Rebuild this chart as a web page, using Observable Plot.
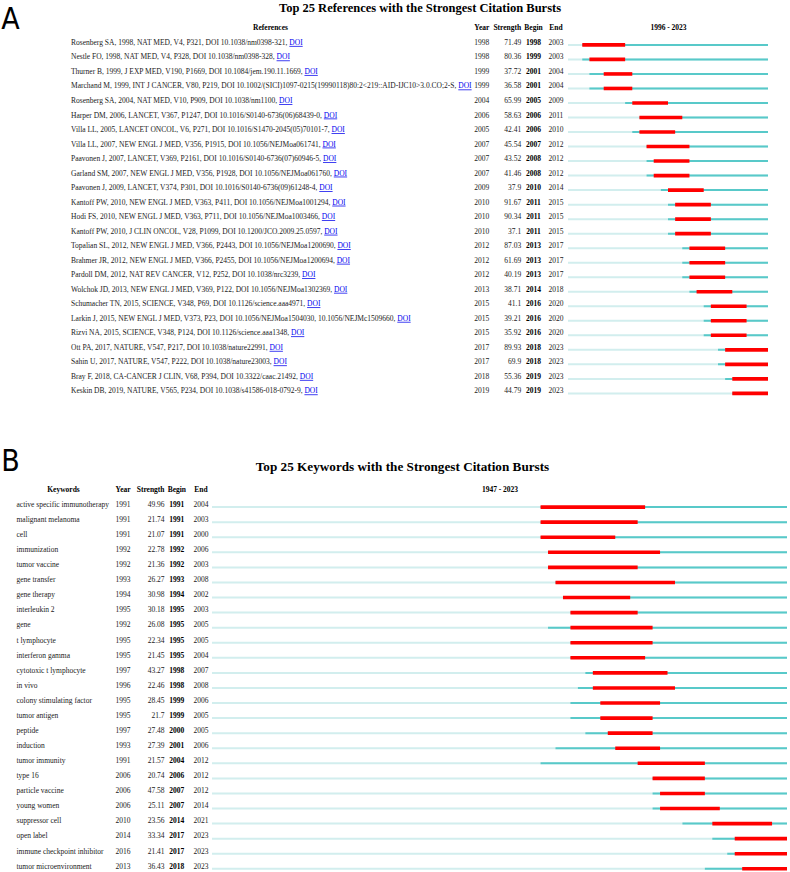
<!DOCTYPE html>
<html>
<head>
<meta charset="utf-8">
<script src="https://cdn.jsdelivr.net/npm/d3@7"></script>
<script src="https://cdn.jsdelivr.net/npm/@observablehq/plot@0.6"></script>
<style>
  html, body { margin: 0; padding: 0; background: #fff; }
  #chart svg { display: block; }
</style>
</head>
<body>
<div id="chart"></div>
<script>
// ---------- Panel A data ----------
const titleA = "Top 25 References with the Strongest Citation Bursts";
const spanA = [1996, 2023];
const references = [
  "Rosenberg SA, 1998, NAT MED, V4, P321, DOI 10.1038/nm0398-321,",
  "Nestle FO, 1998, NAT MED, V4, P328, DOI 10.1038/nm0398-328,",
  "Thurner B, 1999, J EXP MED, V190, P1669, DOI 10.1084/jem.190.11.1669,",
  "Marchand M, 1999, INT J CANCER, V80, P219, DOI 10.1002/(SICI)1097-0215(19990118)80:2<219::AID-IJC10>3.0.CO;2-S,",
  "Rosenberg SA, 2004, NAT MED, V10, P909, DOI 10.1038/nm1100,",
  "Harper DM, 2006, LANCET, V367, P1247, DOI 10.1016/S0140-6736(06)68439-0,",
  "Villa LL, 2005, LANCET ONCOL, V6, P271, DOI 10.1016/S1470-2045(05)70101-7,",
  "Villa LL, 2007, NEW ENGL J MED, V356, P1915, DOI 10.1056/NEJMoa061741,",
  "Paavonen J, 2007, LANCET, V369, P2161, DOI 10.1016/S0140-6736(07)60946-5,",
  "Garland SM, 2007, NEW ENGL J MED, V356, P1928, DOI 10.1056/NEJMoa061760,",
  "Paavonen J, 2009, LANCET, V374, P301, DOI 10.1016/S0140-6736(09)61248-4,",
  "Kantoff PW, 2010, NEW ENGL J MED, V363, P411, DOI 10.1056/NEJMoa1001294,",
  "Hodi FS, 2010, NEW ENGL J MED, V363, P711, DOI 10.1056/NEJMoa1003466,",
  "Kantoff PW, 2010, J CLIN ONCOL, V28, P1099, DOI 10.1200/JCO.2009.25.0597,",
  "Topalian SL, 2012, NEW ENGL J MED, V366, P2443, DOI 10.1056/NEJMoa1200690,",
  "Brahmer JR, 2012, NEW ENGL J MED, V366, P2455, DOI 10.1056/NEJMoa1200694,",
  "Pardoll DM, 2012, NAT REV CANCER, V12, P252, DOI 10.1038/nrc3239,",
  "Wolchok JD, 2013, NEW ENGL J MED, V369, P122, DOI 10.1056/NEJMoa1302369,",
  "Schumacher TN, 2015, SCIENCE, V348, P69, DOI 10.1126/science.aaa4971,",
  "Larkin J, 2015, NEW ENGL J MED, V373, P23, DOI 10.1056/NEJMoa1504030, 10.1056/NEJMc1509660,",
  "Rizvi NA, 2015, SCIENCE, V348, P124, DOI 10.1126/science.aaa1348,",
  "Ott PA, 2017, NATURE, V547, P217, DOI 10.1038/nature22991,",
  "Sahin U, 2017, NATURE, V547, P222, DOI 10.1038/nature23003,",
  "Bray F, 2018, CA-CANCER J CLIN, V68, P394, DOI 10.3322/caac.21492,",
  "Keskin DB, 2019, NATURE, V565, P234, DOI 10.1038/s41586-018-0792-9,"
];
const yearA = [1998,1998,1999,1999,2004,2006,2005,2007,2007,2007,2009,2010,2010,2010,2012,2012,2012,2013,2015,2015,2015,2017,2017,2018,2019];
const strengthA = [71.49,80.36,37.72,36.58,65.99,58.63,42.41,45.54,43.52,41.46,37.9,91.67,90.34,37.1,87.03,61.69,40.19,38.71,41.1,39.21,35.92,89.93,69.9,55.36,44.79];
const beginA = [1998,1999,2001,2001,2005,2006,2006,2007,2008,2008,2010,2011,2011,2011,2013,2013,2013,2014,2016,2016,2016,2018,2018,2019,2019];
const endA = [2003,2003,2004,2004,2009,2011,2010,2012,2012,2012,2014,2015,2015,2015,2017,2017,2017,2018,2020,2020,2020,2023,2023,2023,2023];

// ---------- Panel B data ----------
const titleB = "Top 25 Keywords with the Strongest Citation Bursts";
const spanB = [1947, 2023];
const keywords = ["active specific immunotherapy","malignant melanoma","cell","immunization","tumor vaccine","gene transfer","gene therapy","interleukin 2","gene","t lymphocyte","interferon gamma","cytotoxic t lymphocyte","in vivo","colony stimulating factor","tumor antigen","peptide","induction","tumor immunity","type 16","particle vaccine","young women","suppressor cell","open label","immune checkpoint inhibitor","tumor microenvironment"];
const yearB = [1991,1991,1991,1992,1992,1993,1994,1995,1992,1995,1995,1997,1996,1995,1995,1997,1993,1991,2006,2006,2006,2010,2014,2016,2013];
const strengthB = [49.96,21.74,21.07,22.78,21.36,26.27,30.98,30.18,26.08,22.34,21.45,43.27,22.46,28.45,21.7,27.48,27.39,21.57,20.74,47.58,25.11,23.56,33.34,21.41,36.43];
const beginB = [1991,1991,1991,1992,1992,1993,1994,1995,1995,1995,1995,1998,1998,1999,1999,2000,2001,2004,2006,2007,2007,2014,2017,2017,2018];
const endB = [2004,2003,2000,2006,2003,2008,2002,2003,2005,2005,2004,2007,2008,2006,2005,2005,2006,2012,2012,2012,2014,2021,2023,2023,2023];

const headerCols = ["Year", "Strength", "Begin", "End"];

// ---------- styling ----------
const LIGHT = "#d2eeee", DARK = "#58c9c9", RED = "#ff0000";
const SERIF = '"Liberation Serif","Times New Roman",Times,serif';
const NARROW = '"Liberation Sans Narrow","DejaVu Sans Condensed","Arial Narrow",sans-serif';
const INK = "#1a1a1a";

function makePanel(o) {
  const rows = o.labels.map((label, i) => ({
    i, label, year: o.year[i], strength: o.strength[i], begin: o.begin[i], end: o.end[i],
    t0: o.span[0], t1: o.span[1] + 1
  }));
  const head = [{i: -1}];
  const c = o.cols;
  return Plot.plot({
    width: 790, height: o.height, margin: 0,
    x: {domain: [o.span[0], o.span[1] + 1], range: o.xRange, axis: null},
    y: {domain: [0, rows.length - 1], range: o.yRange, axis: null},
    style: {fontFamily: SERIF, fontSize: "7.5px", color: INK, background: "#fff", overflow: "visible"},
    marks: [
      // panel letter & title
      Plot.text([o.letter], {text: d => d, frameAnchor: "top-left", lineAnchor: "middle", dx: 10, dy: o.letterY, textAnchor: "middle",
        fontFamily: NARROW, fontSize: 30, fill: "#000"}),
      Plot.text([o.title], {text: d => d, frameAnchor: "top-left", lineAnchor: "middle", dx: o.titleX, dy: o.titleY, textAnchor: "middle",
        fontWeight: "bold", fontSize: o.titleSize, fill: "#000"}),
      // header row
      Plot.text(head, {y: "i", text: () => o.labelHeader, frameAnchor: "left", dx: c.labelCenter, textAnchor: "middle", fontWeight: "bold", fill: "#000"}),
      Plot.text(head, {y: "i", text: () => headerCols[0], frameAnchor: "left", dx: c.year, textAnchor: "middle", fontWeight: "bold", fill: "#000"}),
      Plot.text(head, {y: "i", text: () => headerCols[1], frameAnchor: "left", dx: c.strength, textAnchor: "end", fontWeight: "bold", fill: "#000"}),
      Plot.text(head, {y: "i", text: () => headerCols[2], frameAnchor: "left", dx: c.begin, textAnchor: "middle", fontWeight: "bold", fill: "#000"}),
      Plot.text(head, {y: "i", text: () => headerCols[3], frameAnchor: "left", dx: c.end, textAnchor: "middle", fontWeight: "bold", fill: "#000"}),
      Plot.text(head, {y: "i", x: () => (o.span[0] + o.span[1] + 1) / 2, text: () => `${o.span[0]} - ${o.span[1]}`, textAnchor: "middle", fontWeight: "bold", fill: "#000"}),
      // table body
      Plot.text(rows, {y: "i", text: d => o.doi ? d.label + " " : d.label, frameAnchor: "left", dx: c.label, textAnchor: "start", fill: INK}),
      Plot.text(rows, {y: "i", text: d => String(d.year), frameAnchor: "left", dx: c.year, textAnchor: "middle", fill: INK}),
      Plot.text(rows, {y: "i", text: d => String(d.strength), frameAnchor: "left", dx: c.strength, textAnchor: "end", fill: INK}),
      Plot.text(rows, {y: "i", text: d => String(d.begin), frameAnchor: "left", dx: c.begin, textAnchor: "middle", fontWeight: "bold", fill: "#000"}),
      Plot.text(rows, {y: "i", text: d => String(d.end), frameAnchor: "left", dx: c.end, textAnchor: "middle", fill: INK}),
      // burst timelines
      Plot.ruleY(rows, {y: "i", x1: "t0", x2: "t1", stroke: LIGHT, strokeWidth: 2, dy: o.barDy}),
      Plot.ruleY(rows, {y: "i", x1: "year", x2: "t1", stroke: DARK, strokeWidth: 2, dy: o.barDy}),
      Plot.ruleY(rows, {y: "i", x1: "begin", x2: d => d.end + 1, stroke: RED, strokeWidth: 3.6, dy: o.barDy})
    ]
  });
}

const plotA = makePanel({
  letter: "A", letterY: 19, title: titleA, titleX: 419.5, titleY: 7, titleSize: 12.5,
  labels: references, labelHeader: "References", doi: true,
  year: yearA, strength: strengthA, begin: beginA, end: endA, span: spanA,
  height: 430, xRange: [568, 768], yRange: [42, 390.5], barDy: 2.4,
  cols: {label: 70.5, labelCenter: 270, year: 481.3, strength: 520.7, begin: 533, end: 555.5}
});
const plotB = makePanel({
  letter: "B", letterY: 31, title: titleB, titleX: 402, titleY: 36.7, titleSize: 13.2,
  labels: keywords, labelHeader: "Keywords", doi: false,
  year: yearB, strength: strengthB, begin: beginB, end: endB, span: spanB,
  height: 442, xRange: [212, 787], yRange: [74, 435.7], barDy: 2.6,
  cols: {label: 16, labelCenter: 63, year: 122.6, strength: 164, begin: 176.3, end: 200.5}
});

// blue underlined "DOI" links after each reference
const refSet = new Set(references.map(r => r + " "));
d3.select(plotA).selectAll("text").each(function() {
  if (refSet.has(this.textContent)) {
    d3.select(this).append("tspan").text("DOI")
      .attr("fill", "#0000ee").style("text-decoration", "underline");
  }
});

const chart = document.getElementById("chart");
chart.append(plotA, plotB);
</script>
</body>
</html>
